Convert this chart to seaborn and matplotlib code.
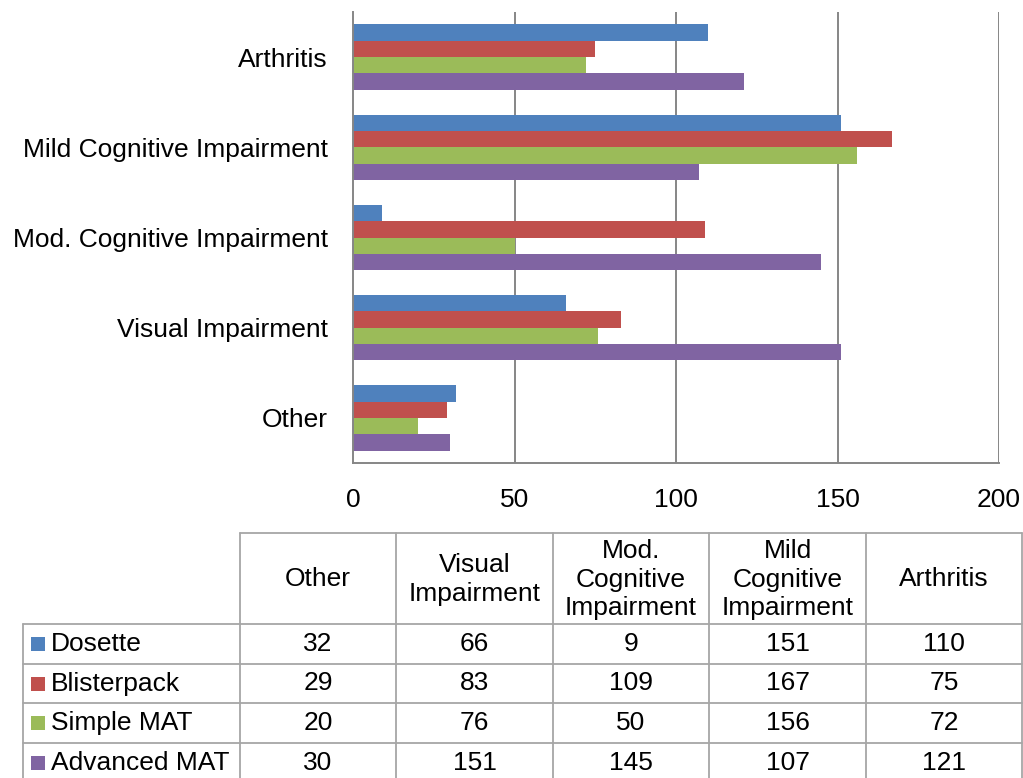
import matplotlib
matplotlib.use("Agg")
import matplotlib.pyplot as plt
import seaborn as sns
import pandas as pd

# Conditions (top to bottom in the bar chart)
conditions = ["Arthritis", "Mild Cognitive Impairment", "Mod. Cognitive Impairment",
              "Visual Impairment", "Other"]
# Table column headers (left to right) and their wrapped labels
table_columns = ["Other", "Visual Impairment", "Mod. Cognitive Impairment",
                 "Mild Cognitive Impairment", "Arthritis"]
table_headers = ["Other", "Visual\nImpairment", "Mod.\nCognitive\nImpairment",
                 "Mild\nCognitive\nImpairment", "Arthritis"]

series = ["Dosette", "Blisterpack", "Simple MAT", "Advanced MAT"]
# Values per series, in table column order: Other, Visual, Mod., Mild, Arthritis
dosette = [32, 66, 9, 151, 110]
blisterpack = [29, 83, 109, 167, 75]
simple_mat = [20, 76, 50, 156, 72]
advanced_mat = [30, 151, 145, 107, 121]

colors = ["#4F81BD", "#C0504D", "#9BBB59", "#8064A2"]
x_ticks = [0, 50, 100, 150, 200]

values = {"Dosette": dosette, "Blisterpack": blisterpack,
          "Simple MAT": simple_mat, "Advanced MAT": advanced_mat}
rows = []
for s in series:
    for cond, v in zip(table_columns, values[s]):
        rows.append({"Condition": cond, "Aid": s, "Count": v})
df = pd.DataFrame(rows)

sns.set_theme(style="white")
plt.rcParams["font.family"] = ["Liberation Sans", "DejaVu Sans"]

W, H = 1023, 778
fig = plt.figure(figsize=(W / 100, H / 100), dpi=100)
fs = 19
grid_c = "#868686"
line_c = "#A6A6A6"

# ---- bar chart ----
ax = fig.add_axes([353 / W, 1 - 463 / H, (999 - 353) / W, (463 - 12) / H])
sns.barplot(data=df, y="Condition", x="Count", hue="Aid", order=conditions,
            hue_order=series, palette=colors, orient="h", width=0.725,
            saturation=1, ax=ax, legend=False, edgecolor="none")
ax.set_xlim(0, 200)
ax.set_xticks(x_ticks)
ax.set_xticklabels([str(t) for t in x_ticks], fontsize=fs, color="black")
ax.tick_params(axis="y", labelsize=fs, colors="black", length=0, pad=18)
ax.tick_params(axis="x", length=0, pad=18)
ax.set_xlabel("")
ax.set_ylabel("")
for t in x_ticks[1:]:
    ax.axvline(t, color=grid_c, lw=1.4, zorder=0)
for side in ["top", "right"]:
    ax.spines[side].set_visible(False)
ax.spines["left"].set_color(grid_c)
ax.spines["left"].set_linewidth(1.4)
ax.spines["bottom"].set_color(grid_c)
ax.spines["bottom"].set_linewidth(1.4)

# ---- data table below the chart (pixel coordinates) ----
tab = fig.add_axes([0, 0, 1, 1])
tab.set_xlim(0, W)
tab.set_ylim(H, 0)
tab.axis("off")

col_x = [240, 396, 553, 709, 866, 1022]
leg_left = 23
head_top, head_bot = 533, 624
row_y = [624, 664, 703, 743, 783]

# header box
tab.plot([col_x[0], col_x[-1]], [head_top, head_top], color=line_c, lw=1.3)
for x in col_x:
    tab.plot([x, x], [head_top, H + 5], color=line_c, lw=1.3)
tab.plot([leg_left, leg_left], [head_bot, H + 5], color=line_c, lw=1.3)
for y in row_y[:-1]:
    tab.plot([leg_left, col_x[-1]], [y, y], color=line_c, lw=1.3)

for i, hdr in enumerate(table_headers):
    cx = (col_x[i] + col_x[i + 1]) / 2
    tab.text(cx, (head_top + head_bot) / 2 + 1, hdr, ha="center", va="center",
             fontsize=fs, color="black", linespacing=1.26)

for r, s in enumerate(series):
    cy = (row_y[r] + row_y[r + 1]) / 2
    tab.add_patch(plt.Rectangle((31, cy - 7), 14, 14, color=colors[r], lw=0))
    tab.text(51, cy, s, ha="left", va="center", fontsize=fs, color="black")
    for i, v in enumerate(values[s]):
        cx = (col_x[i] + col_x[i + 1]) / 2
        tab.text(cx, cy, str(v), ha="center", va="center", fontsize=fs,
                 color="black")

fig.savefig("out.png", dpi=100)
